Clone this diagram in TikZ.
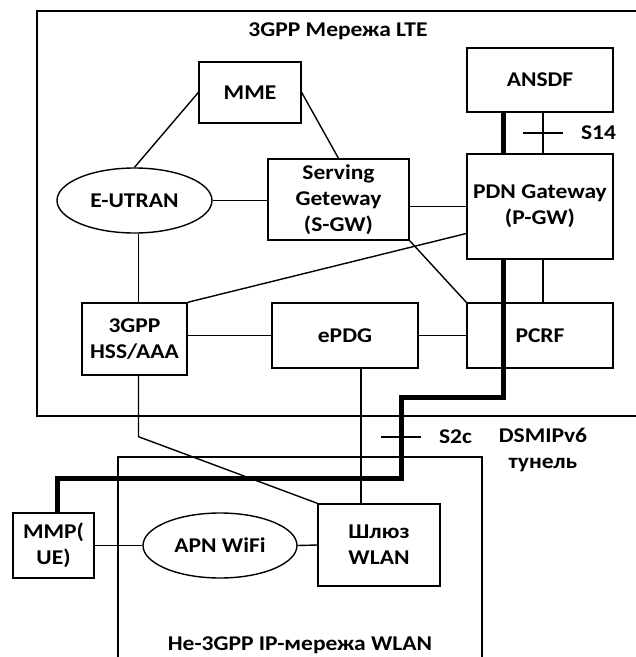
\documentclass[tikz,border=0pt]{standalone}
\usepackage{fontspec}
\setmainfont{Carlito}[FakeStretch=1.12]
\usetikzlibrary{shapes.geometric}
\definecolor{ink}{HTML}{000000}

\begin{document}
\begin{tikzpicture}[x=1pt, y=-1pt, line width=1.4pt,
  font=\fontsize{21}{26}\selectfont\bfseries,
  box/.style={draw=ink, rectangle, align=center, inner sep=0pt},
  cloud/.style={draw=ink, ellipse, inner sep=0pt},
  tunnel/.style={draw=ink, line width=5pt}]
\newcommand{\ifacemark}[3]{%
  \draw[ink] ([xshift=-20pt]#1) -- ([xshift=20pt]#1);
  \node[anchor=west] (#2) at ([xshift=34pt]#1) {#3};}
\useasboundingbox (0,0) rectangle (636,657);

% 3GPP LTE network frame
\draw[ink] (660,11) -- (37,11) -- (37,416) -- (660,416);
\node[anchor=base] (lte) at (338,36) {3GPP Мережа LTE};

\node[box, minimum width=102, minimum height=61] (mme) at (250,92.5) {MME};
\node[box, minimum width=146, minimum height=64] (ansdf) at (540,80) {ANSDF};
\node[cloud, minimum width=155, minimum height=65] (eutran) at (134.5,200.5) {E-UTRAN};
\node[box, minimum width=141, minimum height=81] (sgw) at (338.5,199.5) {Serving\\Geteway\\(S-GW)};
\node[box, minimum width=146, minimum height=105] (pgw) at (540,206.5) {PDN Gateway\\(P-GW)};
\node[box, minimum width=105, minimum height=72] (hss) at (134.5,339) {3GPP\\HSS/AAA};
\node[box, minimum width=146, minimum height=65] (epdg) at (345,335.5) {ePDG};
\node[box, minimum width=146, minimum height=65] (pcrf) at (540,335.5) {PCRF};

% non-3GPP WLAN frame
\draw[ink] (118,670) -- (118,457) -- (482,457) -- (482,670);
\node[anchor=base] (wlan) at (300,650) {Не-3GPP IP-мережа WLAN};

\node[box, minimum width=81, minimum height=65] (mmp) at (53.5,545.5) {MMP(\\UE)};
\node[cloud, minimum width=154, minimum height=65] (apn) at (220,545.5) {APN WiFi};
\node[box, minimum width=122, minimum height=82] (gw) at (379,545) {Шлюз\\WLAN};

\node[align=center] (dsmip) at (543,450) {DSMIPv6\\тунель};

% links
\draw[ink] (eutran.north) -- (mme.west);
\draw[ink] (mme.east) -- (sgw.north);
\draw[ink] (eutran.east) -- (eutran.east -| sgw.west);
\draw[ink] (pgw.west) -- (pgw.west -| sgw.east);
\draw[ink] (hss.north east) -- ([yshift=-27pt]pgw.west);
\draw[ink] (sgw.south east) -- (pcrf.north west);
\draw[ink] ([xshift=4pt]eutran.south) -- ([xshift=4pt]hss.north);
\draw[ink] (epdg.west -| hss.east) -- (epdg.west);
\draw[ink] (epdg.east) -- (pcrf.west);
\draw[ink] ([xshift=3pt]pgw.south) -- ([xshift=3pt]pcrf.north);
\draw[ink] ([xshift=3pt]ansdf.south) -- ([xshift=3pt]pgw.north) coordinate[midway] (s14);
\draw[ink] ([xshift=4pt]hss.south) -- ++(0,61) -- (gw.north west);
\draw[ink] ([xshift=-18pt]gw.north) -- ([xshift=-18pt]gw.north |- epdg.south);
\draw[ink] (mmp.east) -- (apn.west);
\draw[ink] (apn.east) -- (gw.west);

% DSMIPv6 tunnel
\coordinate (t1) at (401,397);
\coordinate (t2) at (57,478);
\draw[tunnel] ([xshift=-37pt]ansdf.south) -- ([xshift=-37pt]pgw.north);
\draw[tunnel] ([xshift=-37pt]pgw.south) |- (t1) |- (t2) -- (t2 |- mmp.north);
\coordinate (s2c) at (401,437);

\ifacemark{s14}{s14lbl}{S14}
\ifacemark{s2c}{s2clbl}{S2c}
\end{tikzpicture}
\end{document}
